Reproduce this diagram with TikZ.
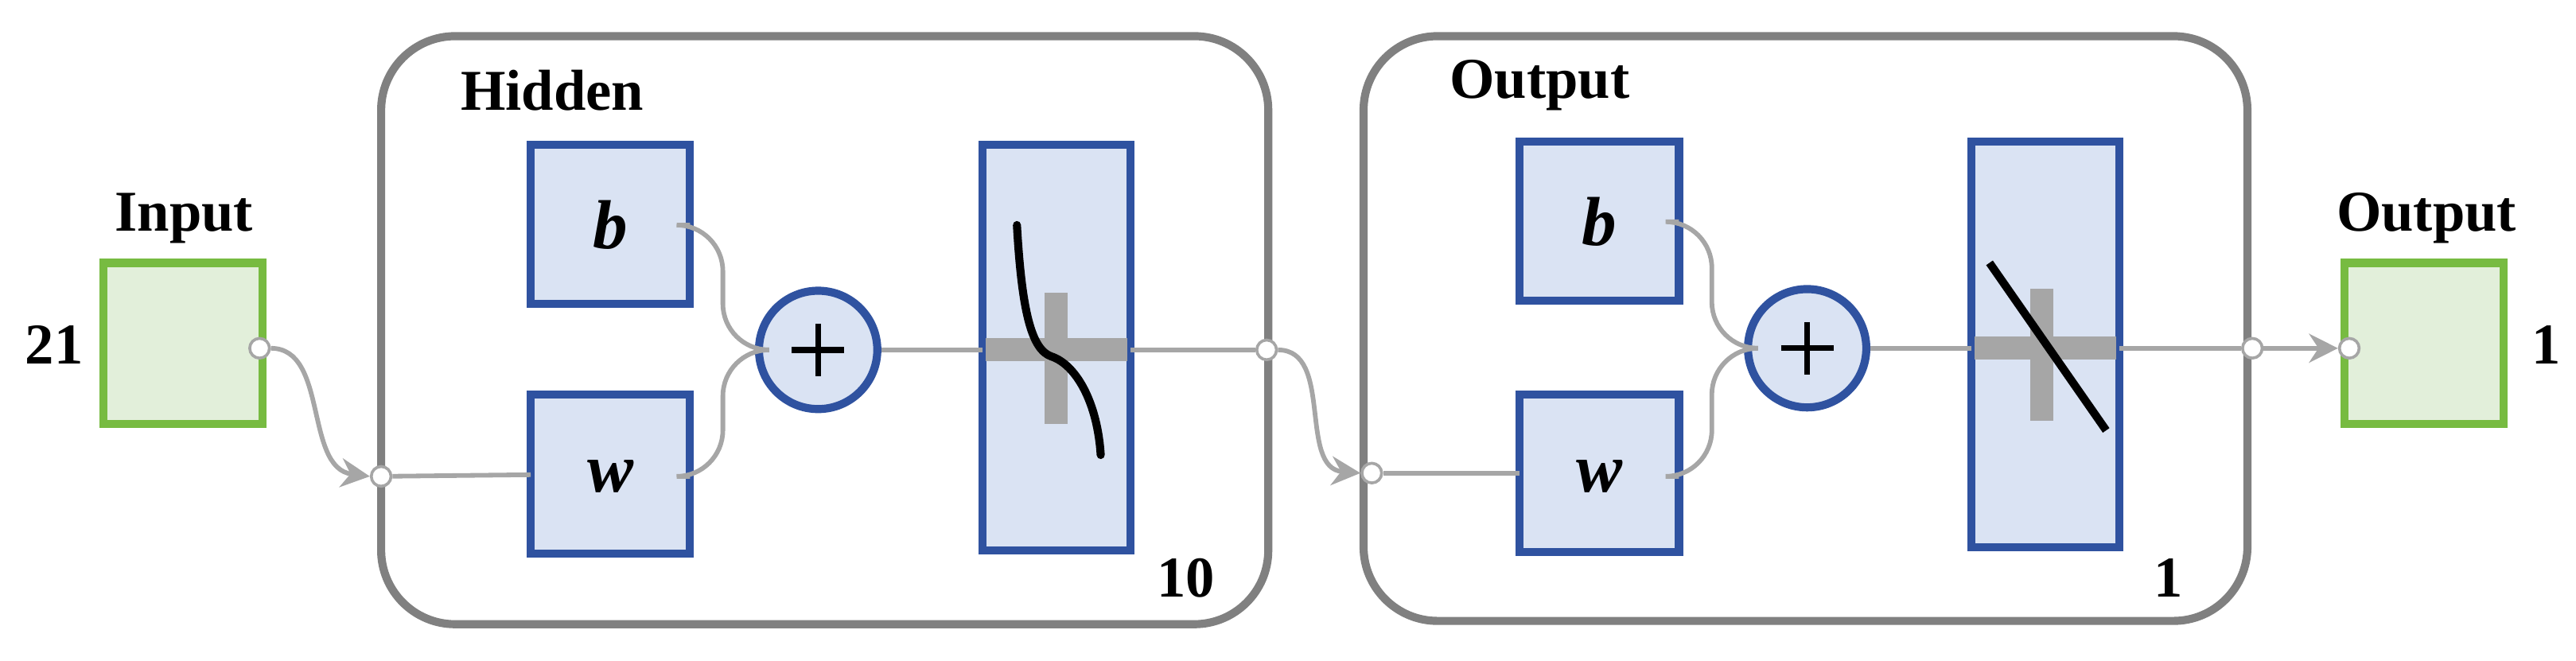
\documentclass[tikz,border=0pt]{standalone}
\usepackage{fontspec}
\setmainfont{Liberation Serif}
\usetikzlibrary{arrows.meta}
\definecolor{bl}{HTML}{2F52A0}
\definecolor{blf}{HTML}{DAE3F3}
\definecolor{gr}{HTML}{77BB41}
\definecolor{grf}{HTML}{E2EFDA}
\definecolor{cont}{HTML}{808080}
\definecolor{con}{HTML}{A6A6A6}
\begin{document}
\begin{tikzpicture}[x=0.01cm,y=-0.01cm,
  lab/.style={font=\fontsize{10}{12}\selectfont\bfseries},
  blk/.style={draw=bl,fill=blf,line width=1.4pt},
  io/.style={draw=gr,fill=grf,line width=1.4pt},
  box/.style={draw=cont,line width=1.4pt,rounded corners=0.45cm},
  wire/.style={draw=con,line width=0.8pt},
  port/.style={circle,draw=con,fill=white,line width=0.5pt,inner sep=0pt,minimum size=0.12cm},
  plus/.style={circle,blk,minimum size=0.72cm,inner sep=0pt},
  arr/.style={wire,-{Stealth[length=5pt,width=5pt]}}]
\useasboundingbox (0,0) rectangle (1568,402);
% input
\draw[io] (63,160) rectangle (160,258);
\node[lab] at (112,133) {Input};
\node[lab] at (33,210) {21};
% hidden layer
\draw[box] (232,22) rectangle (772,380);
\node[lab,anchor=west] at (268,55) {Hidden};
\node[lab] at (722,352) {10};
\draw[blk] (323,88) rectangle (420,185);
\node[font=\fontsize{12}{14}\selectfont\bfseries\itshape] (hb) at (371.5,137) {b};
\draw[blk] (323,240) rectangle (420,337);
\node[font=\fontsize{12}{14}\selectfont\bfseries\itshape] (hw) at (371.5,290) {w};
\draw[blk] (598,88) rectangle (688,335);
\node[plus] (hp) at (498,213) {};
\draw[line width=1pt] (482,213) -- (514,213) (498,197) -- (498,229);
\fill[con] (600,206) rectangle (686,220);
\fill[con] (636,178) rectangle (650,258);
\draw[line width=1.4pt,line cap=round] (619,137) .. controls (622,190) and (628,213) .. (640,217) .. controls (655,222) and (668,245) .. (670,277);
% output layer
\draw[box] (830,22) rectangle (1368,378);
\node[lab,anchor=west] at (870,52) {Output};
\node[lab] at (1320,352) {1};
\draw[blk] (925,86) rectangle (1022,183);
\node[font=\fontsize{12}{14}\selectfont\bfseries\itshape] (ob) at (973.5,135) {b};
\draw[blk] (925,240) rectangle (1022,336);
\node[font=\fontsize{12}{14}\selectfont\bfseries\itshape] (ow) at (973.5,290) {w};
\draw[blk] (1200,86) rectangle (1290,333);
\node[plus] (op) at (1100,212) {};
\draw[line width=1pt] (1084,212) -- (1116,212) (1100,196) -- (1100,228);
\fill[con] (1202,205) rectangle (1288,219);
\fill[con] (1236,176) rectangle (1250,256);
\draw[line width=1.4pt] (1211,160) -- (1282,262);
% final output
\draw[io] (1427,160) rectangle (1524,258);
\node[lab] at (1477,133) {Output};
\node[lab] at (1550,210) {1};
% ports
\node[port] (p1) at (158,212) {};
\node[port] (p2) at (232,290) {};
\node[port] (p3) at (771,213) {};
\node[port] (p4) at (835,288) {};
\node[port] (p5) at (1371,212) {};
\node[port] (p6) at (1430,212) {};
% wires
\coordinate (hbr) at (420,137); \coordinate (hwr) at (420,290);
\draw[wire,rounded corners=8pt] (hbr) -- (440,137) -- (440,213) -- (hp.west);
\draw[wire,rounded corners=8pt] (hwr) -- (440,290) -- (440,213) -- (hp.west);
\draw[wire] (hp.east) -- (598,213);
\draw[wire] (688,213) -- (p3);
\draw[wire] (p2) -- (323,289);
\draw[arr] (p1.east) .. controls (200,212) and (185,285) .. (p2.west);
\coordinate (obr) at (1022,135); \coordinate (owr) at (1022,290);
\draw[wire,rounded corners=8pt] (obr) -- (1042,135) -- (1042,212) -- (op.west);
\draw[wire,rounded corners=8pt] (owr) -- (1042,290) -- (1042,212) -- (op.west);
\draw[wire] (op.east) -- (1200,212);
\draw[wire] (1290,212) -- (p5);
\draw[wire] (p4) -- (925,288);
\draw[arr] (p3.east) .. controls (812,213) and (790,285) .. (p4.west);
\draw[arr] (p5) -- (p6.west);
\end{tikzpicture}
\end{document}
